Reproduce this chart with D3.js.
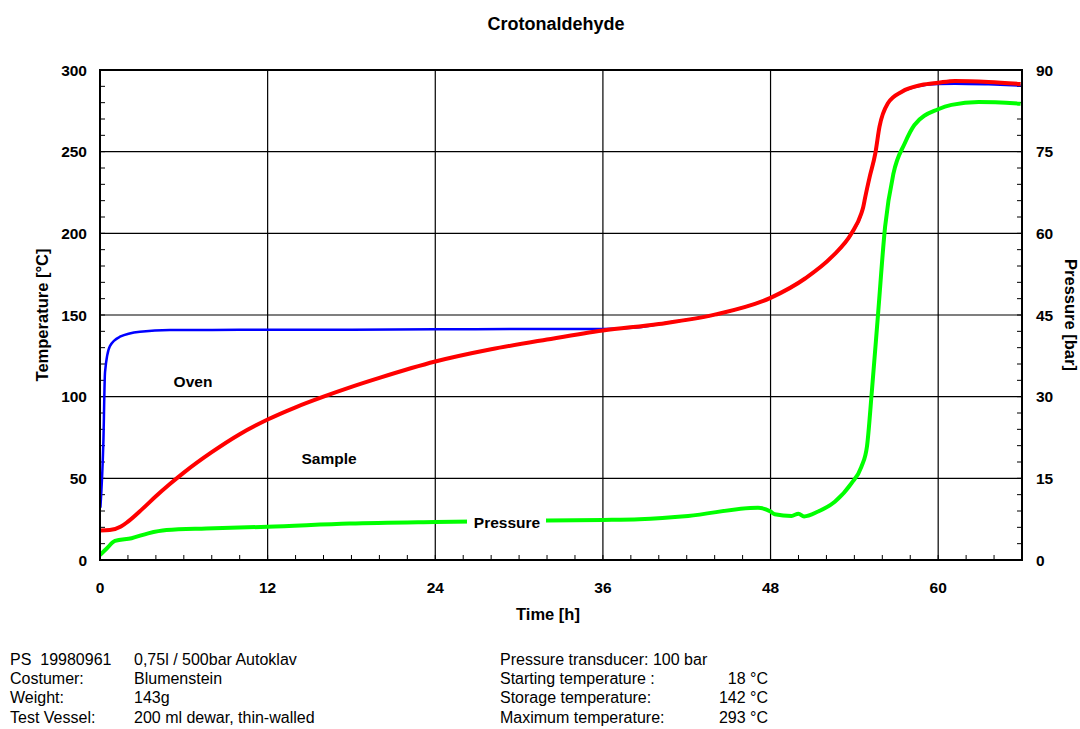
<!DOCTYPE html>
<html><head><meta charset="utf-8">
<script src="https://cdn.jsdelivr.net/npm/d3@7"></script>
<style>body{margin:0;background:#fff;} text{font-family:"Liberation Sans",Arial,sans-serif;white-space:pre;}</style>
</head><body>
<svg id="c" width="1080" height="729"></svg>
<script>
const title = "Crotonaldehyde";
const xTicks = [0, 12, 24, 36, 48, 60];
const tempTicks = [0, 50, 100, 150, 200, 250, 300];
const presTicks = [0, 15, 30, 45, 60, 75, 90];

const ovenT = [0.03,0.24,0.36,0.71,1.43,2.86,5,8,12,18,24,30,36,38.6,40,44,48,50.5,52.4,53.8,54.64,54.76,55.1,55.5,55.8,56.4,57.4,58.8,60,61.2,63.6,65.9];
const ovenV = [32,71.6,115,131,136.7,139.8,140.8,140.8,141,141,141.2,141.4,141.5,142.5,144.5,150.2,160.5,172.5,185.7,200,216.3,221.4,234.7,249,265.3,279.6,286.5,290.4,291.4,291.6,291.2,290.5];

const sampleT = [0,0.7,1.5,2,3,4,5,6,8,10,12,14,16,18,20,24,28,32,36,40,44,48,50.5,52.4,53.8,54.5,54.64,54.76,55.1,55.5,55.8,56.4,57.4,58.8,60,61.2,63.6,65.9];
const sampleV = [18,18.3,20.5,23.5,31,39,46.5,53.5,66,77,86,93.5,100,106,111.5,121.5,129,135,140.5,144.5,150.2,160.5,172.5,185.7,200,212.2,216.3,221.4,234.7,249,265.3,279.6,286.7,290.8,292.2,293.3,292.7,291.4];

const presT = [0,0.48,1.07,2.26,3.45,4.76,7.6,12,17.86,24,30,36,38.6,42.1,47.1,48,48.3,49.5,50,50.4,51.4,52.6,53.8,54.5,54.9,55.24,55.7,56.2,56.8,57.6,58.3,60,60.95,62.9,65.9];
const presV = [0.9,2.1,3.5,4.0,4.9,5.5,5.8,6.1,6.7,7.0,7.2,7.35,7.5,8.1,9.6,8.9,8.4,8.1,8.5,8.0,8.9,10.7,14.1,17.1,20.8,30.6,45.3,61.2,71,76.5,79.9,82.8,83.6,84.1,83.8];

const footerLeft = [["PS  19980961","0,75l / 500bar Autoklav"],["Costumer:","Blumenstein"],["Weight:","143g"],["Test Vessel:","200 ml dewar, thin-walled"]];
const footerRight = [["Pressure transducer: 100 bar",""],["Starting temperature :","18 °C"],["Storage temperature:","142 °C"],["Maximum temperature:","293 °C"]];

const svg = d3.select("#c");
const L=100, R=1022, T=70, B=560;
const x = d3.scaleLinear().domain([0,66]).range([L,R]);
const yT = d3.scaleLinear().domain([0,300]).range([B,T]);
const yP = d3.scaleLinear().domain([0,90]).range([B,T]);

const g = svg.append("g");
g.selectAll(".vg").data(xTicks.filter(d=>d>0)).enter().append("line")
  .attr("x1",d=>x(d)).attr("x2",d=>x(d)).attr("y1",T).attr("y2",B).attr("stroke","#000").attr("stroke-width",1.2);
g.selectAll(".hg").data(tempTicks.filter(d=>d>0&&d<300)).enter().append("line")
  .attr("y1",d=>yT(d)).attr("y2",d=>yT(d)).attr("x1",L).attr("x2",R).attr("stroke","#000").attr("stroke-width",1.2);

const xMinor = d3.range(0,67,2);
g.selectAll(".xm").data(xMinor).enter().append("line")
  .attr("x1",d=>x(d)).attr("x2",d=>x(d)).attr("y1",B).attr("y2",B-5).attr("stroke","#000");
const yMinor = d3.range(0,301,10);
g.selectAll(".ylm").data(yMinor).enter().append("line")
  .attr("x1",L).attr("x2",L+5).attr("y1",d=>yT(d)).attr("y2",d=>yT(d)).attr("stroke","#000");
g.selectAll(".yrm").data(yMinor).enter().append("line")
  .attr("x1",R).attr("x2",R-5).attr("y1",d=>yT(d)).attr("y2",d=>yT(d)).attr("stroke","#000");

const lineT = d3.line().x(d=>x(d[0])).y(d=>yT(d[1])).curve(d3.curveMonotoneX);
const lineP = d3.line().x(d=>x(d[0])).y(d=>yP(d[1])).curve(d3.curveMonotoneX);
svg.append("clipPath").attr("id","pc").append("rect").attr("x",L).attr("y",T-3).attr("width",R-L).attr("height",B-T+3);
const cg = svg.append("g").attr("clip-path","url(#pc)");
cg.append("path").attr("d",lineT(d3.zip(ovenT,ovenV))).attr("fill","none").attr("stroke","#0000ff").attr("stroke-width",2.5);
cg.append("path").attr("d",lineT(d3.zip(sampleT,sampleV))).attr("fill","none").attr("stroke","#ff0000").attr("stroke-width",4);
cg.append("path").attr("d",lineP(d3.zip(presT,presV))).attr("fill","none").attr("stroke","#00ff00").attr("stroke-width",4);

svg.append("rect").attr("x",L).attr("y",T).attr("width",R-L).attr("height",B-T).attr("fill","none").attr("stroke","#000").attr("stroke-width",2);

svg.append("text").attr("x",193).attr("y",387).attr("text-anchor","middle").attr("font-size",15.5).attr("font-weight","bold").text("Oven");
svg.append("text").attr("x",329).attr("y",464).attr("text-anchor","middle").attr("font-size",15.5).attr("font-weight","bold").text("Sample");
svg.append("rect").attr("x",467).attr("y",511).attr("width",79).attr("height",22).attr("fill","#fff");
svg.append("text").attr("x",507).attr("y",528).attr("text-anchor","middle").attr("font-size",15.5).attr("font-weight","bold").text("Pressure");

svg.selectAll(".xl").data(xTicks).enter().append("text").attr("x",d=>x(d)).attr("y",593).attr("text-anchor","middle")
  .attr("font-size",15.5).attr("font-weight","bold").text(d=>d);
svg.selectAll(".yl").data(tempTicks).enter().append("text").attr("x",87).attr("y",d=>yT(d)+5.5).attr("text-anchor","end")
  .attr("font-size",15.5).attr("font-weight","bold").text(d=>d);
svg.selectAll(".yr").data(presTicks).enter().append("text").attr("x",1036).attr("y",d=>yP(d)+5.5).attr("text-anchor","start")
  .attr("font-size",15.5).attr("font-weight","bold").text(d=>d);

svg.append("text").attr("x",556).attr("y",30).attr("text-anchor","middle").attr("font-size",18).attr("font-weight","bold").text(title);
svg.append("text").attr("x",548).attr("y",620).attr("text-anchor","middle").attr("font-size",16.5).attr("font-weight","bold").text("Time [h]");
svg.append("text").attr("transform","translate(48,315) rotate(-90)").attr("text-anchor","middle").attr("font-size",16.5).attr("font-weight","bold").text("Temperature [°C]");
svg.append("text").attr("transform","translate(1065,315) rotate(90)").attr("text-anchor","middle").attr("font-size",16.5).attr("font-weight","bold").text("Pressure [bar]");

const fy = [665,684,703,723];
footerLeft.forEach((r,i)=>{
  svg.append("text").attr("x",10).attr("y",fy[i]).attr("font-size",16).text(r[0]);
  svg.append("text").attr("x",134).attr("y",fy[i]).attr("font-size",16).text(r[1]);
});
footerRight.forEach((r,i)=>{
  svg.append("text").attr("x",500).attr("y",fy[i]).attr("font-size",16).text(r[0]);
  if(r[1]) svg.append("text").attr("x",768).attr("y",fy[i]).attr("text-anchor","end").attr("font-size",16).text(r[1]);
});
</script>
</body></html>
